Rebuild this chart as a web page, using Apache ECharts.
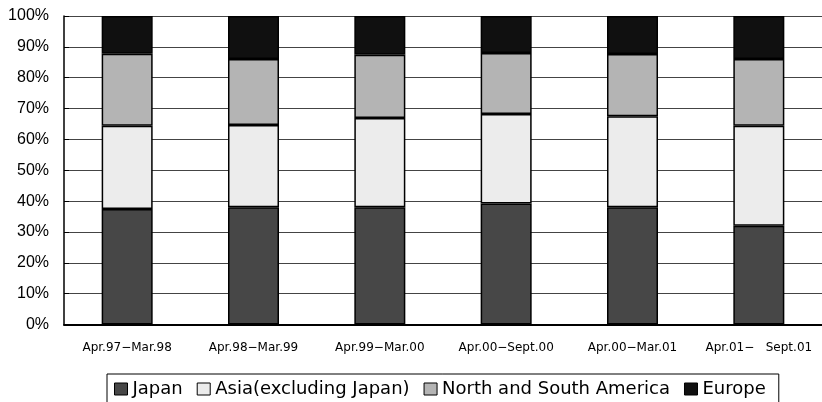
<!DOCTYPE html>
<html>
<head>
<meta charset="utf-8">
<script src="https://cdn.jsdelivr.net/npm/echarts@6/dist/echarts.min.js"></script>
<style>
  html, body { margin: 0; padding: 0; background: #fff; }
  #chart { width: 822px; height: 402px; }
</style>
</head>
<body>
<div id="chart"></div>
<script>
// Periods on the horizontal axis
const periods = ['Apr.97−Mar.98', 'Apr.98−Mar.99', 'Apr.99−Mar.00', 'Apr.00−Sept.00', 'Apr.00−Mar.01', 'Apr.01−   Sept.01'];

// Share of each region, in percent
const japan    = [37.4, 38.0, 38.0, 39.2, 38.0, 32.0];
const asia     = [27.0, 26.7, 28.9, 29.0, 29.5, 32.4];
const americas = [23.4, 21.4, 20.5, 19.8, 20.2, 21.7];
const europe   = [12.2, 13.9, 12.6, 12.0, 12.3, 13.9];

const seriesNames = ['Japan', 'Asia(excluding Japan)', 'North and South America', 'Europe'];
const seriesColors = ['#474747', '#ececec', '#b4b4b4', '#101010'];
const seriesData = [japan, asia, americas, europe];

const axisFont = '"Liberation Sans", sans-serif';
const labelFont = '"DejaVu Sans", sans-serif';

const chart = echarts.init(document.getElementById('chart'), null, { renderer: 'canvas' });

chart.setOption({
  animation: false,
  backgroundColor: '#fff',
  grid: { left: 64, top: 16, right: -3, bottom: 77.5, containLabel: false },
  legend: {
    left: 107,
    top: 374,
    data: seriesNames,
    icon: 'rect',
    itemWidth: 13,
    itemHeight: 12,
    itemGap: 14,
    padding: [6, 13, 12, 7],
    borderColor: '#000',
    borderWidth: 1,
    itemStyle: { borderColor: '#000', borderWidth: 1 },
    textStyle: { fontFamily: labelFont, fontSize: 18, color: '#000' }
  },
  xAxis: {
    type: 'category',
    data: periods,
    axisLine: { lineStyle: { color: '#000', width: 2 } },
    axisTick: { inside: true, length: 5, lineStyle: { color: '#000' } },
    axisLabel: { fontFamily: labelFont, fontSize: 12, color: '#000', margin: 17, interval: 0 }
  },
  yAxis: {
    type: 'value',
    min: 0,
    max: 100,
    interval: 10,
    axisLine: { show: true, lineStyle: { color: '#000', width: 1.5 } },
    axisTick: { show: true, inside: true, length: 5, lineStyle: { color: '#000' } },
    axisLabel: { fontFamily: axisFont, fontSize: 16, color: '#000', margin: 15, formatter: '{value}%' },
    splitLine: { show: true, lineStyle: { color: '#444', width: 1 } }
  },
  series: seriesData.map((d, i) => ({
    name: seriesNames[i],
    type: 'bar',
    stack: 'share',
    barWidth: 51,
    data: d,
    itemStyle: { color: seriesColors[i], borderColor: '#000', borderWidth: 1.5 }
  }))
});
</script>
</body>
</html>
